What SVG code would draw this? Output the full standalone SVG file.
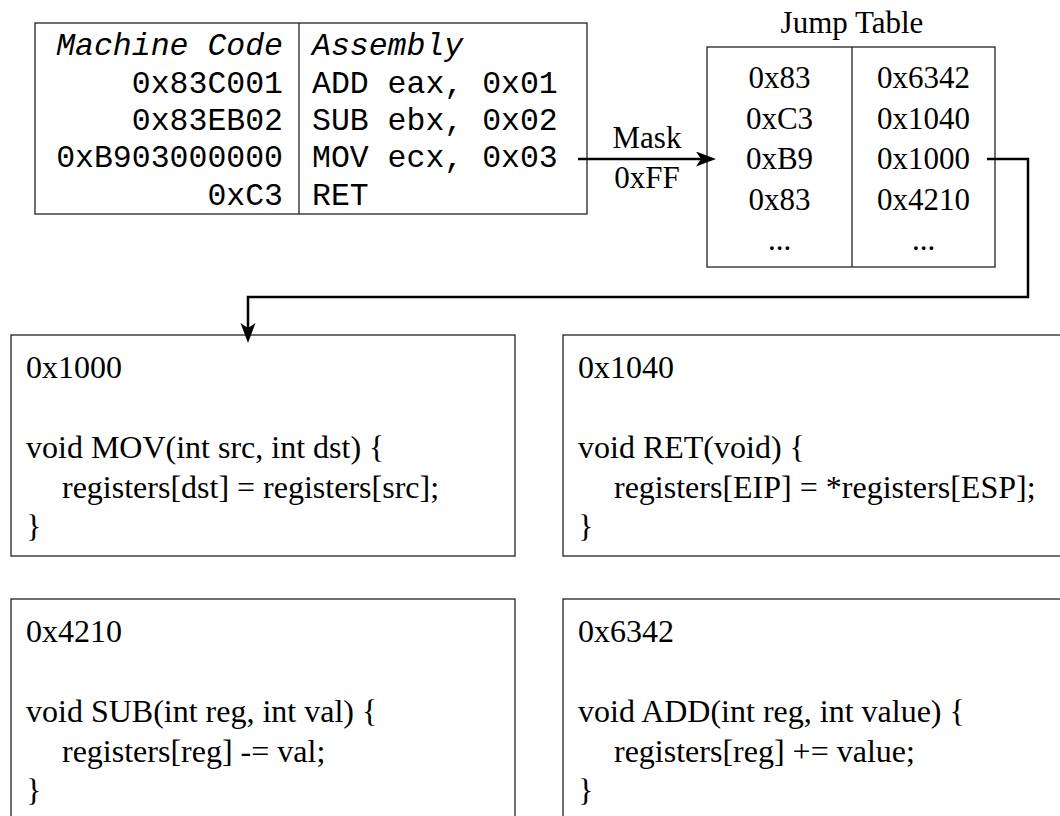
<svg xmlns="http://www.w3.org/2000/svg" width="1060" height="816" viewBox="0 0 1060 816">
  <style>
    .box { fill: #fff; stroke: #222; stroke-width: 1.3; }
    .rule { stroke: #222; stroke-width: 1.3; }
    .mono { font-family: "Liberation Mono", "Courier New", monospace; font-size: 31.5px; fill: #000; }
    .ital { font-style: italic; }
    .serif { font-family: "Liberation Serif", "Times New Roman", serif; font-size: 31px; fill: #000; }
    .code { font-family: "Liberation Serif", "Times New Roman", serif; font-size: 32px; fill: #000; }
    .mid { text-anchor: middle; }
    .end { text-anchor: end; }
    .wire { fill: none; stroke: #000; stroke-width: 2.5; }
  </style>
  <defs>
    <marker id="arrow" markerUnits="userSpaceOnUse" markerWidth="22" markerHeight="16" refX="14" refY="7.5" orient="auto">
      <path d="M0,0 L20,7.5 L0,15 L5,7.5 z" fill="#000"/>
    </marker>
  </defs>

  <rect width="1060" height="816" fill="#fff"/>

  <!-- instruction listing: machine code next to its assembly -->
  <g id="listing">
    <rect class="box" x="35" y="23" width="552" height="191"/>
    <line class="rule" x1="299" y1="23" x2="299" y2="214"/>
    <text class="mono ital end" x="283" y="55">Machine Code</text>
    <text class="mono ital" x="312" y="55">Assembly</text>
    <text class="mono end" x="283" y="93">0x83C001</text>
    <text class="mono" x="312" y="93">ADD eax, 0x01</text>
    <text class="mono end" x="283" y="130">0x83EB02</text>
    <text class="mono" x="312" y="130">SUB ebx, 0x02</text>
    <text class="mono end" x="283" y="167">0xB903000000</text>
    <text class="mono" x="312" y="167">MOV ecx, 0x03</text>
    <text class="mono end" x="283" y="205">0xC3</text>
    <text class="mono" x="312" y="205">RET</text>
  </g>

  <!-- opcode to handler address lookup -->
  <g id="jump-table">
    <text class="serif mid" x="852" y="33">Jump Table</text>
    <rect class="box" x="707" y="47" width="288" height="220"/>
    <line class="rule" x1="852" y1="47" x2="852" y2="267"/>
    <text class="serif mid" x="779.5" y="88">0x83</text>
    <text class="serif mid" x="779.5" y="128.5">0xC3</text>
    <text class="serif mid" x="779.5" y="169">0xB9</text>
    <text class="serif mid" x="779.5" y="209.5">0x83</text>
    <text class="serif mid" x="779.5" y="250">...</text>
    <text class="serif mid" x="923.5" y="88">0x6342</text>
    <text class="serif mid" x="923.5" y="128.5">0x1040</text>
    <text class="serif mid" x="923.5" y="169">0x1000</text>
    <text class="serif mid" x="923.5" y="209.5">0x4210</text>
    <text class="serif mid" x="923.5" y="250">...</text>
  </g>

  <!-- handler routines -->
  <g id="handler-1000">
    <rect class="box" x="11" y="335" width="504" height="221"/>
    <text class="code" x="26" y="378">0x1000</text>
    <text class="code" x="26" y="458">void MOV(int src, int dst) {</text>
    <text class="code" x="62" y="498">registers[dst] = registers[src];</text>
    <text class="code" x="26" y="537">}</text>
  </g>

  <g id="handler-1040">
    <rect class="box" x="563" y="335" width="520" height="221"/>
    <text class="code" x="578" y="378">0x1040</text>
    <text class="code" x="578" y="458">void RET(void) {</text>
    <text class="code" x="614" y="498">registers[EIP] = *registers[ESP];</text>
    <text class="code" x="578" y="537">}</text>
  </g>

  <g id="handler-4210">
    <rect class="box" x="11" y="599" width="504" height="240"/>
    <text class="code" x="26" y="642">0x4210</text>
    <text class="code" x="26" y="722">void SUB(int reg, int val) {</text>
    <text class="code" x="62" y="762">registers[reg] -= val;</text>
    <text class="code" x="26" y="801">}</text>
  </g>

  <g id="handler-6342">
    <rect class="box" x="563" y="599" width="520" height="240"/>
    <text class="code" x="578" y="642">0x6342</text>
    <text class="code" x="578" y="722">void ADD(int reg, int value) {</text>
    <text class="code" x="614" y="762">registers[reg] += value;</text>
    <text class="code" x="578" y="801">}</text>
  </g>

  <!-- connectors -->
  <g id="connectors">
    <path class="wire" d="M578,159 H710" marker-end="url(#arrow)"/>
    <text class="serif mid" x="647" y="148">Mask</text>
    <text class="serif mid" x="647" y="188">0xFF</text>
    <path class="wire" d="M987,159 H1028 V297 H248 V337" marker-end="url(#arrow)"/>
  </g>
</svg>
